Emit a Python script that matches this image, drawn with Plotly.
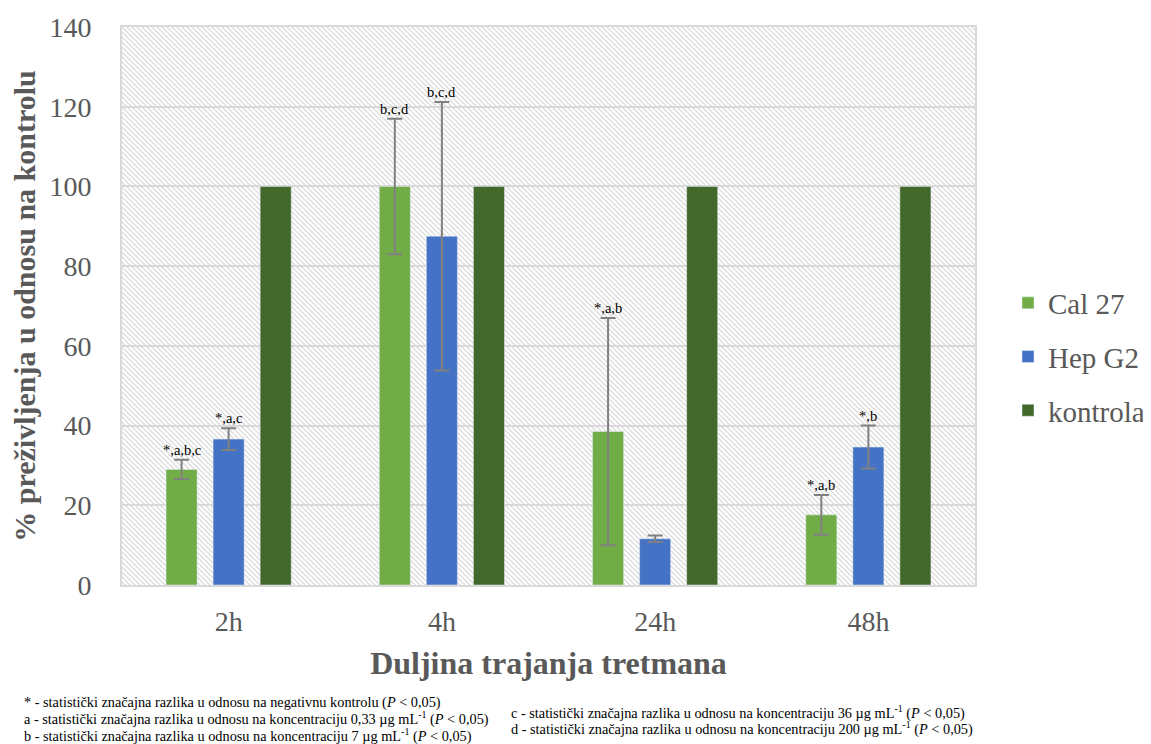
import base64
import plotly.graph_objects as go

categories = ["2h", "4h", "24h", "48h"]
cal27 = [29.0, 100.0, 38.5, 17.6]
cal27_err = [2.4, 17.0, 28.5, 5.0]
hepg2 = [36.6, 87.5, 11.6, 34.6]
hepg2_err = [2.7, 33.7, 0.8, 5.4]
kontrola = [100, 100, 100, 100]
cal27_labels = ["*,a,b,c", "b,c,d", "*,a,b", "*,a,b"]
hepg2_labels = ["*,a,c", "b,c,d", "", "*,b"]

FONT = "Liberation Serif"
OFF = 8  # default page body margin
W, H = 1151 - OFF, 744 - OFF
PL, PR, PT, PB = 122, 975, 27, 585  # plot area in page pixels
L, R, T, B = PL - OFF, W - (PR - OFF), PT - OFF, H - (PB - OFF)
plot_w, plot_h = PR - PL, PB - PT
cat_w = plot_w / len(categories)
bargap = 0.338
slot = cat_w * (1 - bargap) / 3


def px_x(px):
    return (px - PL) / plot_w


def px_y(py):
    return (PB - py) / plot_h


# diagonal hatch background for the plot area
svg = (
    f'<svg xmlns="http://www.w3.org/2000/svg" width="{plot_w}" height="{plot_h}">'
    '<defs><pattern id="h" patternUnits="userSpaceOnUse" width="5" height="5">'
    '<rect width="5" height="5" fill="#ffffff"/>'
    '<path d="M0,0 L5,5 M-1,4 L1,6 M4,-1 L6,1" stroke="#dcdcdc" stroke-width="1.3"/>'
    '</pattern></defs>'
    f'<rect width="{plot_w}" height="{plot_h}" fill="url(#h)"/></svg>'
)
svg_uri = "data:image/svg+xml;base64," + base64.b64encode(svg.encode()).decode()

err_style = dict(type="data", visible=True, color="#808080", thickness=2, width=7.5)

fig = go.Figure()
fig.add_trace(go.Bar(name="Cal 27", x=categories, y=cal27, marker_color="#70ad47",
                     error_y=dict(array=cal27_err, **err_style), legendgroup="a"))
fig.add_trace(go.Bar(name="Hep G2", x=categories, y=hepg2, marker_color="#4472c4",
                     error_y=dict(array=hepg2_err, **err_style), legendgroup="b"))
fig.add_trace(go.Bar(name="kontrola", x=categories, y=kontrola, marker_color="#43682b",
                     legendgroup="c"))

for i, c in enumerate(categories):
    for j, (vals, errs, labs) in enumerate([(cal27, cal27_err, cal27_labels),
                                            (hepg2, hepg2_err, hepg2_labels)]):
        if labs[i]:
            fig.add_annotation(x=c, y=vals[i] + errs[i], text=labs[i], showarrow=False,
                               xshift=(j - 1) * slot, yanchor="bottom", yshift=0,
                               font=dict(family=FONT, size=14.5, color="black"))

foot_left = [
    "* - statistički značajna razlika u odnosu na negativnu kontrolu (<i>P</i> < 0,05)",
    "a - statistički značajna razlika u odnosu na koncentraciju 0,33 µg mL<sup>-1</sup> (<i>P</i> < 0,05)",
    "b - statistički značajna razlika u odnosu na koncentraciju 7 µg mL<sup>-1</sup> (<i>P</i> < 0,05)",
]
foot_right = [
    "c - statistički značajna razlika u odnosu na koncentraciju 36 µg mL<sup>-1</sup> (<i>P</i> < 0,05)",
    "d - statistički značajna razlika u odnosu na koncentraciju 200 µg mL<sup>-1</sup> (<i>P</i> < 0,05)",
]
for k, t in enumerate(foot_left):
    fig.add_annotation(xref="paper", yref="paper", x=px_x(22), y=px_y(702 + 16.5 * k),
                       text=t, showarrow=False, xanchor="left", yanchor="middle",
                       font=dict(family=FONT, size=14.3, color="black"))
for k, t in enumerate(foot_right):
    fig.add_annotation(xref="paper", yref="paper", x=px_x(509), y=px_y(712 + 16.5 * k),
                       text=t, showarrow=False, xanchor="left", yanchor="middle",
                       font=dict(family=FONT, size=14.3, color="black"))

fig.add_layout_image(source=svg_uri, xref="x domain", yref="y domain", x=0, y=1,
                     sizex=1, sizey=1, xanchor="left", yanchor="top",
                     sizing="stretch", layer="below")

fig.update_layout(
    width=W, height=H,
    margin=dict(l=L, r=R, t=T, b=B, autoexpand=False),
    barmode="group", bargap=bargap, bargroupgap=0.34,
    plot_bgcolor="rgba(0,0,0,0)", paper_bgcolor="white",
    font=dict(family=FONT, color="#595959"),
    legend=dict(x=px_x(1008), y=px_y(357), xanchor="left", yanchor="middle",
                font=dict(family=FONT, size=29, color="#595959"),
                traceorder="grouped", tracegroupgap=13, itemwidth=30),
    showlegend=True,
)
fig.update_xaxes(
    showgrid=False, tickfont=dict(family=FONT, size=28, color="#595959"),
    ticks="outside", ticklen=10, tickcolor="rgba(0,0,0,0)",
    title=dict(text="<b>Duljina trajanja tretmana</b>",
               font=dict(family=FONT, size=32, color="#595959"), standoff=16),
    showline=True, linecolor="#d9d9d9", linewidth=2, mirror=True,
)
fig.update_yaxes(
    range=[0, 140], dtick=20, showgrid=True, gridcolor="#d9d9d9", gridwidth=2,
    tickfont=dict(family=FONT, size=28, color="#595959"),
    ticks="outside", ticklen=23, tickcolor="rgba(0,0,0,0)",
    title=dict(text="<b>% preživljenja u odnosu na kontrolu</b>",
               font=dict(family=FONT, size=30, color="#595959"), standoff=8),
    zeroline=False, showline=True, linecolor="#d9d9d9", linewidth=2, mirror=True,
)
for i in range(1, len(categories)):
    fig.add_vline(x=i - 0.5, line_color="#d9d9d9", line_width=2, layer="below")

fig.write_html("out.html")
